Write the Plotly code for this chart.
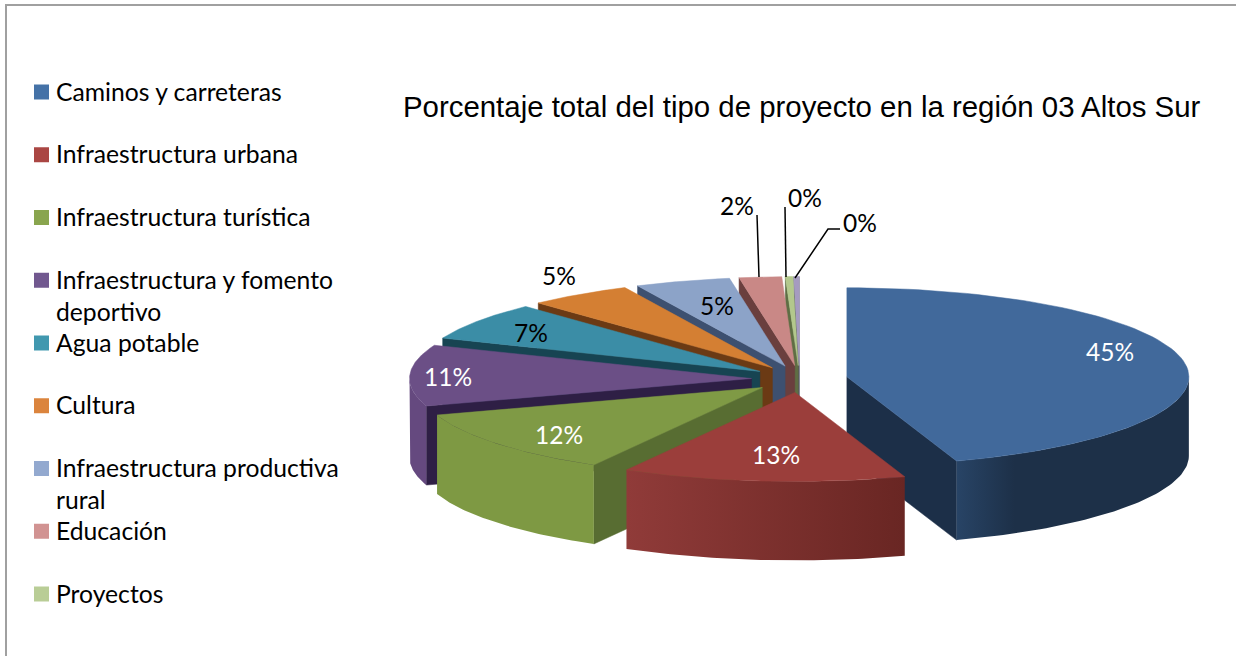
import numpy as np
import plotly.graph_objects as go

# ---- data ----
CATEGORIES = ["Caminos y carreteras", "Infraestructura urbana", "Infraestructura turística",
              "Infraestructura y fomento<br>deportivo", "Agua potable", "Cultura",
              "Infraestructura productiva<br>rural", "Educación", "Proyectos", ""]
VALUES = [44.8, 13.4, 11.8, 11.1, 6.9, 4.9, 4.5, 2.0, 0.35, 0.25]
TITLE = "Porcentaje total del tipo de proyecto en la región 03 Altos Sur"

# ---- style ----
LEGEND_COLORS = ["#4572A7", "#AA4643", "#89A54E", "#71588F", "#4198AF", "#DB843D", "#93A9CF", "#D19392", "#B9CD96", "#A99BBD"]
TOP_COLORS = ["#41699B", "#9B3E3B", "#7F9A45", "#6B4F86", "#3B8DA6", "#D47F33", "#8CA3C8", "#C98886", "#B3C88C", "#A59BC0"]
CUT_COLORS = ["#1C2F48", "#5E2523", "#586D32", "#2E1F45", "#174452", "#6B3A14", "#3D5070", "#6A3F3E", "#5F6E44", "#555566"]
WALL_SCALES = [
    [[0, "#284466"], [0.25, "#1D3048"], [1, "#1D3048"]],
    [[0, "#903B39"], [1, "#692623"]],
    [[0, "#7E9943"], [1, "#7E9943"]],
    [[0, "#65497F"], [1, "#65497F"]],
] + [[[0, c], [1, c]] for c in TOP_COLORS[4:]]
LABEL_COLORS = ["white", "white", "white", "white", "black", "black", "black", "black", "black", "black"]
LABEL_POS = [(1110, 351), (776, 454), (559, 434), (448, 376), (531, 332), (559, 275), (717, 305), (737, 205), (805, 197), (860, 222)]
LEADER_X = [[757, 759], [785, 786], [840, 828, 795]]
LEADER_Y = [[215, 277], [207, 277], [229, 229, 278]]

CX, CY, RX, RY, DEPTH, EX, EY = 799.5, 379, 342, 89, 79, 48, 13.5
LEG_Y0, LEG_STEP = 91, 62.75
TEXT_FONT = "Lato"

# ---- geometry from the data ----
vals = np.array(VALUES, dtype=float)
edges = np.concatenate([[0], np.cumsum(vals) / vals.sum() * 2 * np.pi])

fig = go.Figure()


def poly(xs, ys, color=None, scale=None):
    kw = dict(x=list(xs) + [xs[0]], y=list(ys) + [ys[0]], mode="lines", fill="toself",
              hoverinfo="skip", showlegend=False)
    if scale:
        kw["fillgradient"] = dict(type="horizontal", colorscale=scale)
        kw["line"] = dict(width=0)
    else:
        kw["fillcolor"] = color
        kw["line"] = dict(width=0.5, color=color)
    fig.add_trace(go.Scatter(**kw))


order = sorted(range(len(vals)), key=lambda i: -np.cos((edges[i] + edges[i + 1]) / 2))
for i in order:
    a0, a1 = edges[i], edges[i + 1]
    mid = (a0 + a1) / 2
    ax, ay = CX + EX * np.sin(mid), CY - EY * np.cos(mid)

    def rim(a):
        return ax + RX * np.sin(a), ay - RY * np.cos(a)

    # cut faces
    if np.sin(a0) < 0:
        x, y = rim(a0)
        poly([ax, x, x, ax], [ay, y, y + DEPTH, ay + DEPTH], CUT_COLORS[i])
    if np.sin(a1) > 0:
        x, y = rim(a1)
        poly([ax, x, x, ax], [ay, y, y + DEPTH, ay + DEPTH], CUT_COLORS[i])
    # outer wall
    lo, hi = max(a0, np.pi / 2), min(a1, 3 * np.pi / 2)
    if hi > lo:
        t = np.linspace(lo, hi, 60)
        x, y = rim(t)
        poly(np.r_[x, x[::-1]], np.r_[y, y[::-1] + DEPTH], scale=WALL_SCALES[i])
    # top
    t = np.linspace(a0, a1, 80)
    x, y = rim(t)
    poly(np.r_[ax, x], np.r_[ay, y], TOP_COLORS[i])

# leader lines
for lx, ly in zip(LEADER_X, LEADER_Y):
    fig.add_trace(go.Scatter(x=lx, y=ly, mode="lines", line=dict(color="black", width=1.5),
                             hoverinfo="skip", showlegend=False))

# percentage labels
for v, (x, y), c in zip(VALUES, LABEL_POS, LABEL_COLORS):
    fig.add_annotation(x=x, y=y, text=f"{int(v + 0.5)}%", showarrow=False,
                       font=dict(family=TEXT_FONT, size=24.5, color=c))

# legend
names = [c for c in CATEGORIES if c]
leg_y = [LEG_Y0 + LEG_STEP * k for k in range(len(names))]
fig.add_trace(go.Scatter(x=[41.5] * len(names), y=[y + 1 for y in leg_y], mode="markers",
                         marker=dict(symbol="square", size=15, color=LEGEND_COLORS[:len(names)], line=dict(width=0)),
                         hoverinfo="skip", showlegend=False))
for n, y in zip(names, leg_y):
    for j, line in enumerate(n.split("<br>")):
        fig.add_annotation(x=54, y=y + j * 32, text=line, showarrow=False, xanchor="left",
                           font=dict(family=TEXT_FONT, size=24.7, color="black"))

fig.add_annotation(x=802, y=106, text=TITLE, showarrow=False,
                   font=dict(family="Liberation Sans", size=29.4, color="black"))

# frame
fig.add_shape(type="line", x0=6, x1=6, y0=5, y1=656, line=dict(color="#A0A0A0", width=2))
fig.add_shape(type="line", x0=5, x1=1236, y0=5, y1=5, line=dict(color="#A0A0A0", width=2))

fig.update_layout(width=1236, height=656, margin=dict(l=0, r=0, t=0, b=0),
                  paper_bgcolor="white", plot_bgcolor="white",
                  xaxis=dict(range=[0, 1236], visible=False, fixedrange=True),
                  yaxis=dict(range=[656, 0], visible=False, fixedrange=True))
fig.write_html("out.html", config={"displayModeBar": False},
               post_script="document.body.style.margin='0';document.body.style.overflow='hidden';")
